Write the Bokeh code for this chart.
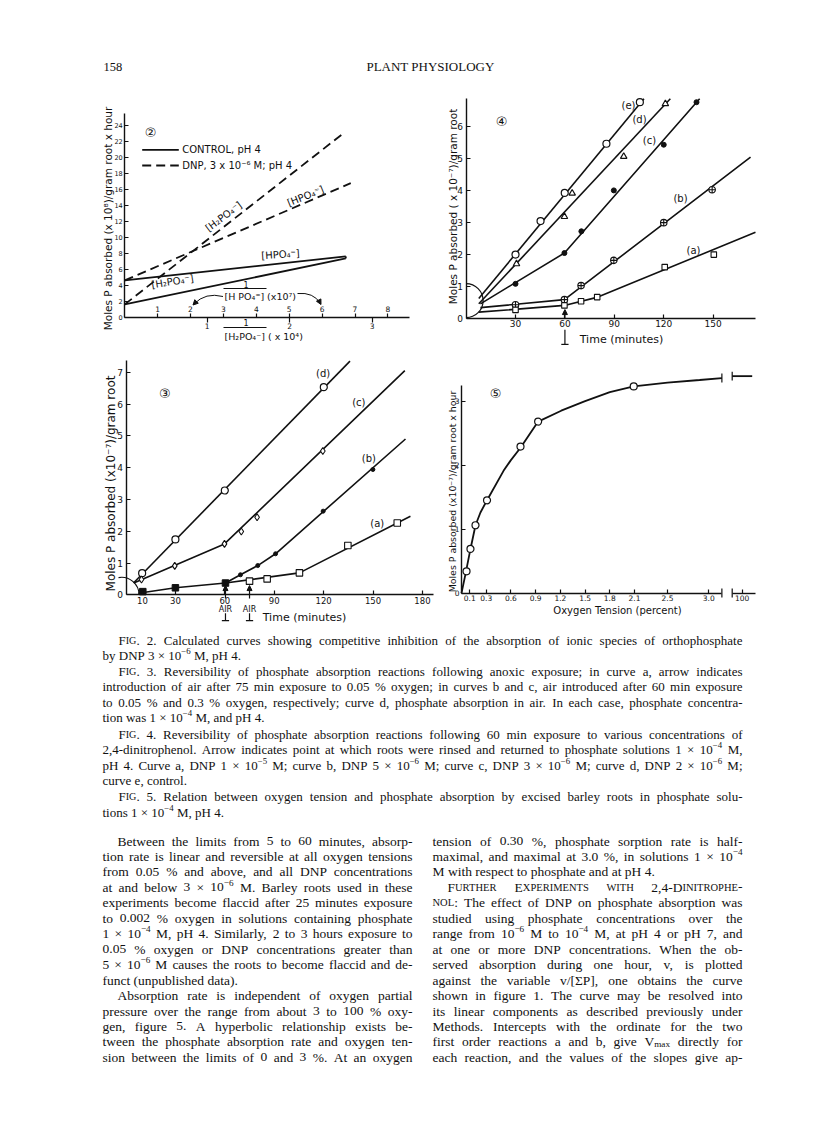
import math
import re
from bokeh.plotting import figure
from bokeh.models import Range1d, LinearAxis, FixedTicker, Arrow, NormalHead, NumeralTickFormatter
from bokeh.core.properties import value
from bokeh.embed import file_html
from bokeh.resources import INLINE

# ================= DATA =================
# Fig 2: x = 1/[H2PO4-] (x10^4), y = moles P absorbed (x10^8)/g root x hour
f2_ctrl_hpo4_x = [0.0, 2.68]
f2_ctrl_hpo4_y = [4.6, 7.6]
f2_ctrl_h2po4_x = [0.0, 2.68]
f2_ctrl_h2po4_y = [1.6, 7.35]
f2_dnp_h2po4_x = [0.0, 2.64]
f2_dnp_h2po4_y = [1.6, 22.9]
f2_dnp_hpo4_x = [0.0, 2.74]
f2_dnp_hpo4_y = [4.6, 16.75]
f2_yticks = [0, 2, 4, 6, 8, 10, 12, 14, 16, 18, 20, 22, 24]
f2_xticks = [1, 2, 3]
f2_hpo4_ticks = [1, 2, 3, 4, 5, 6, 7, 8]

# Fig 4: time (min) vs moles P absorbed (x10^-7)/g root
f4_e_t = [30, 45.2, 59.9, 85.2, 105.5]
f4_e_v = [1.99, 3.04, 3.92, 5.46, 6.76]
f4_e_lt = [7.7, 108.0]
f4_e_lv = [0.62, 6.87]
f4_d_t = [30.6, 59.7, 64.4, 95.7, 121.0]
f4_d_v = [1.70, 3.18, 3.91, 5.06, 6.71]
f4_d_lt = [7.7, 124.0]
f4_d_lv = [0.45, 6.87]
f4_c_t = [30, 59.7, 70, 89.7, 120, 139.9]
f4_c_v = [1.075, 2.04, 2.72, 4.0, 5.43, 6.76]
f4_c_lt = [8.7, 59.7, 141.8]
f4_c_lv = [0.45, 2.04, 6.87]
f4_b_t = [30, 59.7, 69.8, 89.7, 120, 149.4]
f4_b_v = [0.42, 0.58, 1.02, 1.81, 2.99, 4.02]
f4_b_lt = [8.7, 59.7, 172.7]
f4_b_lv = [0.33, 0.58, 5.04]
f4_a_t = [30, 59.7, 69.8, 79.6, 120.6, 150.4]
f4_a_v = [0.26, 0.40, 0.53, 0.66, 1.60, 1.99]
f4_a_lt = [7.7, 59.7, 80.0, 175.7]
f4_a_lv = [0.19, 0.40, 0.66, 2.69]
f4_xticks = [30, 60, 90, 120, 150]
f4_yticks = [0, 1, 2, 3, 4, 5, 6]

# Fig 3
f3_d_t = [9.8, 30, 60, 120.1]
f3_d_v = [0.68, 1.74, 3.28, 6.53]
f3_d_lt = [4.7, 136.0]
f3_d_lv = [0.38, 7.35]
f3_c_t = [9.4, 29.6, 59.8, 70, 79.6, 119.5]
f3_c_v = [0.48, 0.91, 1.60, 1.99, 2.44, 4.52]
f3_c_lt = [4.7, 59.8, 169.3]
f3_c_lv = [0.37, 1.60, 7.05]
f3_b_t = [69.5, 80, 90.8, 119.7, 149.9]
f3_b_v = [0.63, 0.92, 1.29, 2.63, 3.94]
f3_b_lt = [60.4, 69.5, 80, 90.8, 169.7]
f3_b_lv = [0.37, 0.63, 0.92, 1.29, 4.90]
f3_ab_t = [10.2, 30, 60.4]
f3_ab_v = [0.10, 0.22, 0.37]
f3_ab_lt = [7.5, 30, 60.4]
f3_ab_lv = [0.05, 0.22, 0.37]
f3_a_t = [75, 85.7, 105.3, 134.7, 164.7]
f3_a_v = [0.43, 0.50, 0.69, 1.55, 2.26]
f3_a_lt = [60.4, 105.3, 172.7]
f3_a_lv = [0.37, 0.69, 2.47]
f3_air_t = [60.4, 75]
f3_xticks = [10, 30, 60, 90, 120, 150, 180]
f3_yticks = [0, 1, 2, 3, 4, 5, 6, 7]

# Fig 5: oxygen tension (%) vs rate
f5_pts_x = [0.061, 0.109, 0.17, 0.31, 0.716, 0.93, 2.09]
f5_pts_y = [0.34, 0.69, 1.06, 1.45, 2.29, 2.68, 3.23]
f5_curve_x = [0, 0.049, 0.109, 0.17, 0.23, 0.31, 0.51, 0.595, 0.716, 0.93,
              1.21, 1.5, 1.8, 2.09, 2.5, 2.89, 3.16]
f5_curve_y = [0, 0.30, 0.69, 1.06, 1.26, 1.45, 1.91, 2.07, 2.27, 2.68,
              2.85, 3.0, 3.14, 3.23, 3.29, 3.33, 3.36]
f5_tail_x = [97.5, 102.5]
f5_tail_y = [3.39, 3.39]
f5_xticks = [0.1, 0.3, 0.6, 0.9, 1.2, 1.5, 1.8, 2.1, 2.5, 3.0]
f5_xticks2 = [100]
f5_yticks = [0, 1, 2, 3]

# ================= TEXT =================
# markup: {^..} superscript, {_..} subscript, {s..} small capitals
header_num = "158"
header_title = "PLANT PHYSIOLOGY"
captions = [
    "F{sIG}. 2.  Calculated curves showing competitive inhibition of the absorption of ionic species of orthophosphate",
    "by DNP 3 × 10{^−6} M, pH 4.",
    "F{sIG}. 3.  Reversibility of phosphate absorption reactions following anoxic exposure; in curve a, arrow indicates",
    "introduction of air after 75 min exposure to 0.05 % oxygen; in curves b and c, air introduced after 60 min exposure",
    "to 0.05 % and 0.3 % oxygen, respectively; curve d, phosphate absorption in air.  In each case, phosphate concentra-",
    "tion was 1 × 10{^−4} M, and pH 4.",
    "F{sIG}. 4.  Reversibility of phosphate absorption reactions following 60 min exposure to various concentrations of",
    "2,4-dinitrophenol.  Arrow indicates point at which roots were rinsed and returned to phosphate solutions 1 × 10{^−4} M,",
    "pH 4.  Curve a, DNP 1 × 10{^−5} M; curve b, DNP 5 × 10{^−6} M; curve c, DNP 3 × 10{^−6} M; curve d, DNP 2 × 10{^−6} M;",
    "curve e, control.",
    "F{sIG}. 5.  Relation between oxygen tension and phosphate absorption by excised barley roots in phosphate solu-",
    "tions 1 × 10{^−4} M, pH 4.",
]
body_left = [
    "Between the limits from 5 to 60 minutes, absorp-",
    "tion rate is linear and reversible at all oxygen tensions",
    "from 0.05 % and above, and all DNP concentrations",
    "at and below 3 × 10{^−6} M.  Barley roots used in these",
    "experiments become flaccid after 25 minutes exposure",
    "to 0.002 % oxygen in solutions containing phosphate",
    "1 × 10{^−4} M, pH 4.  Similarly, 2 to 3 hours exposure to",
    "0.05 % oxygen or DNP concentrations greater than",
    "5 × 10{^−6} M causes the roots to become flaccid and de-",
    "funct (unpublished data).",
    "Absorption rate is independent of oxygen partial",
    "pressure over the range from about 3 to 100 % oxy-",
    "gen, figure 5.  A hyperbolic relationship exists be-",
    "tween the phosphate absorption rate and oxygen ten-",
    "sion between the limits of 0 and 3 %.  At an oxygen",
]
body_right = [
    "tension of 0.30 %, phosphate sorption rate is half-",
    "maximal, and maximal at 3.0 %, in solutions 1 × 10{^−4}",
    "M with respect to phosphate and at pH 4.",
    "F{sURTHER} E{sXPERIMENTS} {sWITH} 2,4-D{sINITROPHE}-",
    "{sNOL}: The effect of DNP on phosphate absorption was",
    "studied using phosphate concentrations over the",
    "range from 10{^−6} M to 10{^−4} M, at pH 4 or pH 7, and",
    "at one or more DNP concentrations.  When the ob-",
    "served absorption during one hour, v, is plotted",
    "against the variable v/[ΣP], one obtains the curve",
    "shown in figure 1.  The curve may be resolved into",
    "its linear components as described previously under",
    "Methods.  Intercepts with the ordinate for the two",
    "first order reactions a and b, give V{_max} directly for",
    "each reaction, and the values of the slopes give ap-",
]

# ================= CANVAS =================
OFF = 0
W, H = 810, 1090
p = figure(width=W, height=H, x_range=Range1d(OFF, OFF + W), y_range=Range1d(OFF + H, OFF),
           x_axis_type=None, y_axis_type=None, output_backend="svg",
           toolbar_location=None, min_border=0, title=None)
p.outline_line_color = None
p.background_fill_color = "white"

SANS = "DejaVu Sans"
SERIF = "Liberation Serif"
INK = "#111111"


def ranges(name, x0, sx, y0, sy):
    p.extra_x_ranges[name + "x"] = Range1d((OFF - x0) / sx, (OFF + W - x0) / sx)
    p.extra_y_ranges[name + "y"] = Range1d((y0 - (OFF + H)) / sy, (y0 - OFF) / sy)
    return dict(x_range_name=name + "x", y_range_name=name + "y")


def axis(kw, side, bounds, ticks, tin=4, tout=0, fs="9px", standoff=3, line=True, fmt=None):
    ax = LinearAxis(x_range_name=kw["x_range_name"], y_range_name=kw["y_range_name"],
                    fixed_location=0, bounds=bounds, ticker=FixedTicker(ticks=ticks),
                    major_tick_in=tin, major_tick_out=tout, minor_tick_line_color=None,
                    axis_line_color=INK if line else None, axis_line_width=1.4,
                    major_tick_line_width=1.2, major_tick_line_color=INK,
                    major_label_standoff=standoff,
                    major_label_text_font=SANS, major_label_text_font_size=fs,
                    major_label_text_color=INK)
    if fmt is not None:
        ax.formatter = fmt
    p.add_layout(ax, side)
    return ax


def txt(x, y, s, size, font=SANS, align="center", angle=0.0, kw=None, weight="normal"):
    kw = kw or {}
    p.text(x=x if isinstance(x, list) else [x], y=y if isinstance(y, list) else [y],
           text=s if isinstance(s, list) else [s], text_font=value(font),
           text_font_size=size, text_align=align, text_baseline="middle",
           angle=angle, text_color=INK, text_font_style=weight, **kw)


def arrow_up(kw, x, y0, y1, size=6):
    p.add_layout(Arrow(end=NormalHead(size=size, fill_color=INK, line_color=INK),
                       x_start=x, y_start=y0, x_end=x, y_end=y1, line_width=1.2,
                       line_color=INK, **kw))


# ---------------- Fig 2 ----------------
F2 = ranges("f2", 124.2, 82.5, 316.7, 8.0)
p.extra_x_ranges["f2bx"] = Range1d((OFF - 124.2) / 32.9, (OFF + W - 124.2) / 32.9)
F2B = dict(x_range_name="f2bx", y_range_name="f2y")
axis(F2, "left", (0, 25.5), f2_yticks, tin=4, fs="6.5px", standoff=2)
axis(F2, "below", (0, 3.45), f2_xticks, tin=0, tout=5, fs="7.5px", standoff=1)
axis(F2B, "above", (0, 8.5), f2_hpo4_ticks, tin=0, tout=4, fs="7.5px", standoff=1, line=False)
p.line(f2_ctrl_hpo4_x, f2_ctrl_hpo4_y, line_color=INK, line_width=1.8, **F2)
p.line(f2_ctrl_h2po4_x, f2_ctrl_h2po4_y, line_color=INK, line_width=1.8, **F2)
p.line([f2_ctrl_hpo4_x[-1], f2_ctrl_h2po4_x[-1]], [f2_ctrl_hpo4_y[-1], f2_ctrl_h2po4_y[-1]],
       line_color=INK, line_width=1.8, **F2)
p.line(f2_dnp_h2po4_x, f2_dnp_h2po4_y, line_color=INK, line_width=1.8, line_dash="9 5", **F2)
p.line(f2_dnp_hpo4_x, f2_dnp_hpo4_y, line_color=INK, line_width=1.8, line_dash="9 5", **F2)
txt(150, 131.7, "②", "13px")
p.line([141.7, 178.3], [149.3, 149.3], line_color=INK, line_width=1.8)
p.line([141.7, 178.3], [165, 165], line_color=INK, line_width=1.8, line_dash="9 5")
txt(181.7, 149.3, "CONTROL, pH 4", "10px", align="left")
txt(181.7, 165, "DNP, 3 x 10⁻⁶ M; pH 4", "10px", align="left")
txt(223, 216, "[H₂PO₄⁻]", "10px", angle=math.radians(37))
txt(305, 195.5, "[HPO₄⁼]", "10px", angle=math.radians(22))
txt(280, 254, "[HPO₄⁼]", "10px", angle=math.radians(4))
txt(172, 281, "[H₂PO₄⁻]", "10px", angle=math.radians(9))
txt(245.5, 283.5, "1", "8px")
p.line([223, 266], [288, 288], line_color=INK, line_width=1.0)
txt(224, 296, "[H PO₄⁼] (x10⁷)", "9.5px", align="left")
txt(245.5, 322, "1", "8px")
p.line([223, 266], [327, 327], line_color=INK, line_width=1.0)
txt(224, 335.5, "[H₂PO₄⁻] ( x 10⁴)", "9.5px", align="left")
p.quadratic(x0=[222.5], y0=[296], x1=[193.5], y1=[303.5], cx=[205], cy=[291.5],
            line_color=INK, line_width=1.0)
p.quadratic(x0=[297], y0=[293], x1=[320], y1=[303], cx=[313], cy=[291.5],
            line_color=INK, line_width=1.0)
p.add_layout(Arrow(end=NormalHead(size=5, fill_color=INK, line_color=INK),
                   x_start=196.5, y_start=300.5, x_end=192.5, y_end=304.5, line_width=1.0))
p.add_layout(Arrow(end=NormalHead(size=5, fill_color=INK, line_color=INK),
                   x_start=318.3, y_start=299.8, x_end=320.5, y_end=304, line_width=1.0))
txt(107, 218, "Moles P absorbed (x 10⁸)/gram root x hour", "10.5px", angle=math.pi / 2)

# ---------------- Fig 4 ----------------
F4 = ranges("f4", 465.6, 1.647, 317.7, 31.95)
axis(F4, "left", (0, 6.87), f4_yticks, tin=4, fs="9px", standoff=3)
axis(F4, "below", (0, 175.8), f4_xticks, tin=4, fs="9px", standoff=2)
for lt, lv in [(f4_e_lt, f4_e_lv), (f4_d_lt, f4_d_lv), (f4_c_lt, f4_c_lv),
               (f4_b_lt, f4_b_lv), (f4_a_lt, f4_a_lv)]:
    p.line(lt, lv, line_color=INK, line_width=1.6, **F4)
p.arc(x=[0], y=[0.55], radius=17, radius_units="screen", start_angle=-math.pi / 2,
      end_angle=math.pi / 2, line_color=INK, line_width=1.2, **F4)
p.scatter(f4_e_t, f4_e_v, marker="circle", size=7, fill_color="white", line_color=INK, line_width=1.2, **F4)
p.scatter(f4_d_t, f4_d_v, marker="triangle", size=6.5, fill_color="white", line_color=INK, line_width=1.2, **F4)
p.scatter(f4_c_t, f4_c_v, marker="circle", size=5, fill_color=INK, line_color=INK, **F4)
p.scatter(f4_b_t, f4_b_v, marker="circle_cross", size=6.5, fill_color="white", line_color=INK, line_width=1.1, **F4)
p.scatter(f4_a_t, f4_a_v, marker="square", size=5.5, fill_color="white", line_color=INK, line_width=1.1, **F4)
arrow_up(F4, 60, 0.0, 0.27, size=5)
p.line([60, 60], [-0.36, -0.82], line_color=INK, line_width=1.2, **F4)
p.line([57.8, 62.2], [-0.82, -0.82], line_color=INK, line_width=1.2, **F4)
txt(501, 121, "④", "13px")
txt([628, 639, 649, 680, 693], [105, 119, 140, 198, 250], ["(e)", "(d)", "(c)", "(b)", "(a)"], "10px")
txt(452, 206, "Moles P absorbed ( x 10⁻⁷)/gram root", "10.5px", angle=math.pi / 2)
txt(621, 339, "Time (minutes)", "11px")

# ---------------- Fig 3 ----------------
F3 = ranges("f3", 125.5, 1.647, 594.3, 31.8)
axis(F3, "left", (0, 7.37), f3_yticks, tin=4, fs="9px", standoff=3)
axis(F3, "below", (0, 187), f3_xticks, tin=4, fs="8.5px", standoff=2)
for lt, lv in [(f3_d_lt, f3_d_lv), (f3_c_lt, f3_c_lv), (f3_b_lt, f3_b_lv),
               (f3_ab_lt, f3_ab_lv), (f3_a_lt, f3_a_lv)]:
    p.line(lt, lv, line_color=INK, line_width=1.6, **F3)
p.arc(x=[-2.7], y=[0], radius=17.5, radius_units="screen", start_angle=0,
      end_angle=math.radians(100), line_color=INK, line_width=1.2, **F3)
p.scatter(f3_d_t, f3_d_v, marker="circle", size=7, fill_color="white", line_color=INK, line_width=1.2, **F3)
p.scatter(f3_c_t, f3_c_v, marker="diamond", size=7, fill_color="white", line_color=INK, line_width=1.1, **F3)
p.scatter(f3_b_t, f3_b_v, marker="circle", size=4, fill_color=INK, line_color=INK, **F3)
p.scatter(f3_ab_t, f3_ab_v, marker="square", size=6.5, fill_color=INK, line_color=INK, **F3)
p.scatter(f3_a_t, f3_a_v, marker="square", size=6.5, fill_color="white", line_color=INK, line_width=1.1, **F3)
for t in f3_air_t:
    arrow_up(F3, t, -0.12, 0.29, size=5)
    p.line([t, t], [-0.58, -0.81], line_color=INK, line_width=1.2, **F3)
    p.line([t - 2.2, t + 2.2], [-0.81, -0.81], line_color=INK, line_width=1.2, **F3)
txt([125.5 + 1.647 * t for t in f3_air_t], [608.5, 608.5], ["AIR", "AIR"], "8px")
txt(164.3, 393.3, "③", "13px")
txt([322.7, 358.3, 368.3, 376.7], [373.3, 401.7, 458.3, 523.3], ["(d)", "(c)", "(b)", "(a)"], "10px")
txt(110, 483, "Moles P absorbed (x10⁻⁷)/gram root", "12px", angle=math.pi / 2)
txt(304, 617, "Time (minutes)", "11px")

# ---------------- Fig 5 ----------------
F5 = ranges("f5", 461.0, 82.4, 592.6, 64.0)
p.extra_x_ranges["f5bx"] = Range1d((OFF - 341.7) / 4.0, (OFF + W - 341.7) / 4.0)
F5B = dict(x_range_name="f5bx", y_range_name="f5y")
axis(F5, "left", (0, 3.24), f5_yticks, tin=4, fs="7.5px", standoff=2)
axis(F5, "below", (0, 3.16), f5_xticks, tin=4, fs="7.5px", standoff=2,
     fmt=NumeralTickFormatter(format="0.0"))
axis(F5B, "below", (97.5, 103.3), f5_xticks2, tin=4, fs="7.5px", standoff=2)
p.line(f5_curve_x, f5_curve_y, line_color=INK, line_width=1.8, **F5)
p.line(f5_tail_x, f5_tail_y, line_color=INK, line_width=1.8, **F5B)
p.scatter(f5_pts_x, f5_pts_y, marker="circle", size=7, fill_color="white", line_color=INK, line_width=1.2, **F5)
for (xx, yy, kw) in [(3.16, 0, F5), (97.5, 0, F5B), (3.16, 3.36, F5), (97.5, 3.39, F5B)]:
    p.line([xx, xx], [yy - 0.07, yy + 0.07], line_color=INK, line_width=1.2, **kw)
txt(495, 393, "⑤", "13px")
txt(451.5, 491, "Moles P absorbed (x10⁻⁷)/gram root x hour", "9.4px", angle=math.pi / 2)
txt(617, 610, "Oxygen Tension (percent)", "10px")

# ---------------- page text (justified, Times metrics) ----------------
TW = dict(zip("abcdefghijklmnopqrstuvwxyz",
              [444, 500, 444, 500, 444, 333, 500, 500, 278, 278, 500, 278, 778,
               500, 500, 500, 500, 333, 389, 278, 500, 500, 722, 500, 500, 444]))
TW.update(zip("ABCDEFGHIJKLMNOPQRSTUVWXYZ",
              [722, 667, 667, 722, 611, 556, 722, 722, 333, 389, 722, 611, 889,
               722, 722, 556, 722, 667, 556, 611, 722, 722, 944, 722, 722, 611]))
TW.update({d: 500 for d in "0123456789"})
TW.update({" ": 250, ".": 250, ",": 250, ";": 278, ":": 278, "-": 333, "%": 833,
           "×": 564, "−": 564, "(": 333, ")": 333, "[": 333, "]": 333, "/": 278, "Σ": 600})
SEG = re.compile(r"\{([\^_s])([^}]*)\}|([^{]+)")
SCALE = {"n": 1.0, "^": 0.68, "_": 0.68, "s": 0.78}
store = {}


def segs(word):
    out = []
    for m in SEG.finditer(word):
        if m.group(3) is not None:
            out.append(("n", m.group(3)))
        else:
            out.append((m.group(1), m.group(2)))
    return out


def seg_w(kind, s, sz):
    return sum(TW.get(c, 500) for c in s) * sz * SCALE[kind] / 1000.0


def typeset(lines, xs, ys, rights, justify, size):
    for line, x0, yc, xr, just in zip(lines, xs, ys, rights, justify):
        L = xr - x0
        words = [segs(w) for w in line.split()]
        sz = size
        nat = sum(seg_w(k, s, sz) for w in words for k, s in w) + 0.25 * sz * (len(words) - 1)
        if nat > L:
            sz = sz * L / nat
        wsum = sum(seg_w(k, s, sz) for w in words for k, s in w)
        gap = (L - wsum) / (len(words) - 1) if (just and len(words) > 1) else 0.25 * sz
        base = yc + 0.34 * sz
        x = x0
        for w in words:
            for k, s in w:
                fs = round(sz * SCALE[k], 2)
                dy = {"n": 0.0, "s": 0.0, "^": -0.36 * sz, "_": 0.17 * sz}[k]
                g = store.setdefault(fs, ([], [], []))
                g[0].append(x)
                g[1].append(base + dy)
                g[2].append(s)
                x += seg_w(k, s, sz)
            x += gap


cap_y = [636, 651, 667, 682, 698, 713, 730, 745, 761, 776, 792, 808]
cap_x = [118, 102, 118, 102, 102, 102, 118, 102, 102, 102, 118, 102]
cap_just = [True, False, True, True, True, False, True, True, True, False, True, False]
typeset(captions, cap_x, cap_y, [742] * 12, cap_just, 13.0)
body_y = [836 + 15.45 * k for k in range(15)]
lx = [117 if k in (0, 10) else 102 for k in range(15)]
typeset(body_left, lx, body_y, [412] * 15, [k != 9 for k in range(15)], 13.5)
rx = [447 if k == 3 else 432 for k in range(15)]
typeset(body_right, rx, body_y, [742] * 15, [k != 2 for k in range(15)], 13.5)
for fs, (gx, gy, gt) in store.items():
    p.text(x=gx, y=gy, text=gt, text_font=value(SERIF), text_font_size=f"{fs}px",
           text_align="left", text_baseline="alphabetic", text_color=INK)

txt(103, 66, header_num, "12.5px", font=SERIF, align="left")
txt(430, 66, header_title, "13px", font=SERIF)

open("out.html", "w").write(file_html(p, INLINE))
